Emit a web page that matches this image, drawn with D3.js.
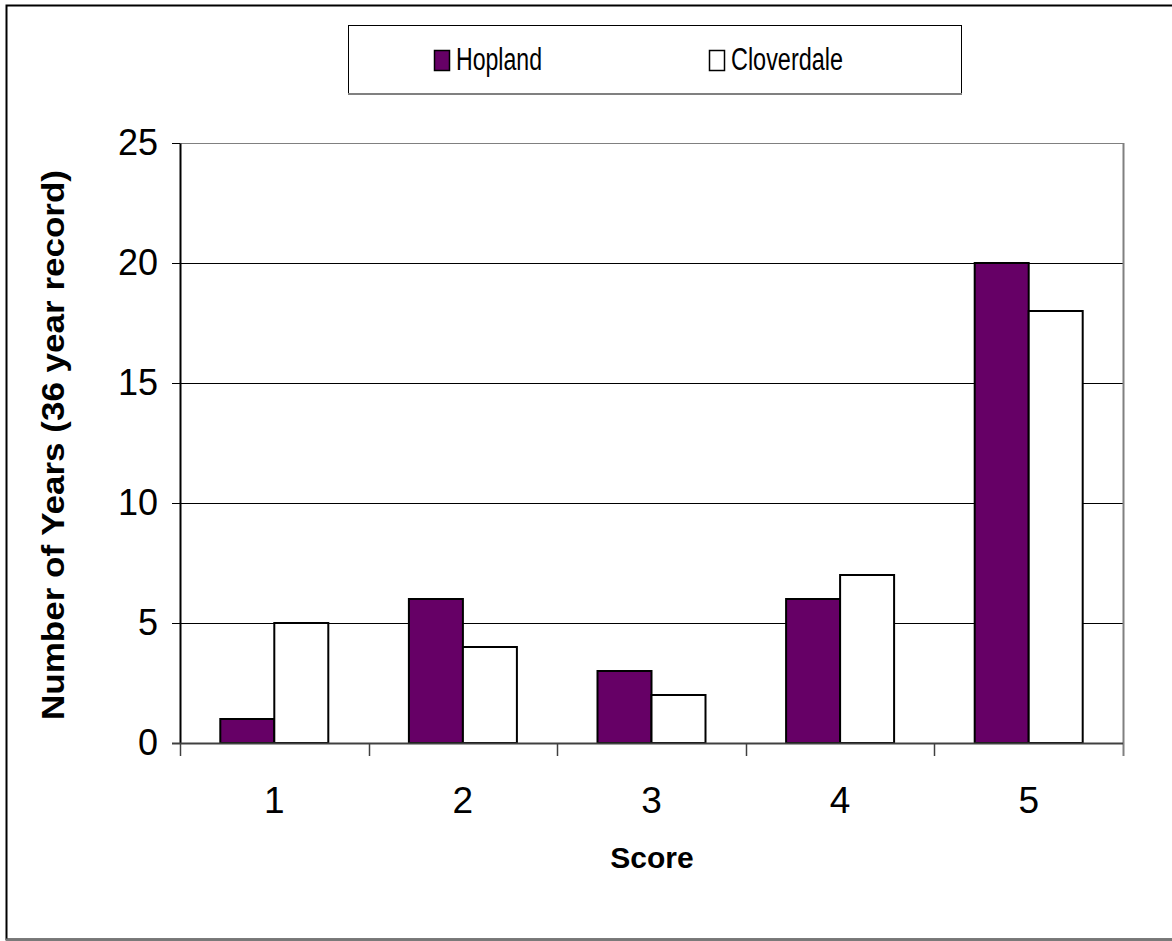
<!DOCTYPE html>
<html>
<head>
<meta charset="utf-8">
<script src="https://cdn.jsdelivr.net/npm/d3@7"></script>
<style>
  html, body { margin: 0; padding: 0; background: #fff; }
  svg { display: block; }
</style>
</head>
<body>
<script>
// Years per score category over a 36 year record
const scores = ["1", "2", "3", "4", "5"];
const hopland = [1, 6, 3, 6, 20];
const cloverdale = [5, 4, 2, 7, 18];
const seriesNames = ["Hopland", "Cloverdale"];
const seriesColors = ["#660066", "#ffffff"];
const yTicks = [0, 5, 10, 15, 20, 25];

const W = 1172, H = 941;
const FONT = "Liberation Sans, Arial, sans-serif";
const svg = d3.select("body").append("svg").attr("width", W).attr("height", H);

// outer frame (right side runs off the page)
svg.append("rect").attr("x", 6.5).attr("y", 5.5).attr("width", W + 20).attr("height", 934)
  .attr("fill", "#fff").attr("stroke", "#000").attr("stroke-width", 2);
svg.append("line").attr("x1", 6).attr("x2", W).attr("y1", 939.5).attr("y2", 939.5)
  .attr("stroke", "#777").attr("stroke-width", 2);

const plot = { left: 180, right: 1123, top: 143, bottom: 743 };

const x = d3.scaleBand().domain(scores).range([plot.left, plot.right]);
const y = d3.scaleLinear().domain([0, 25]).range([plot.bottom, plot.top]);
const groupW = 108;
const xs = d3.scaleBand().domain(seriesNames).range([0, groupW]);

// horizontal gridlines
svg.append("g").selectAll("line").data(yTicks.filter(d => d > 0)).join("line")
  .attr("x1", plot.left).attr("x2", plot.right)
  .attr("y1", d => Math.round(y(d)) + 0.5).attr("y2", d => Math.round(y(d)) + 0.5)
  .attr("stroke", d => d === 25 ? "#808080" : "#000").attr("stroke-width", 1);

// right edge of plot area
svg.append("line").attr("x1", plot.right + 0.5).attr("x2", plot.right + 0.5)
  .attr("y1", plot.top).attr("y2", plot.bottom + 13).attr("stroke", "#808080").attr("stroke-width", 2);

// bars
const rows = scores.map((s, i) => ({ score: s, values: [hopland[i], cloverdale[i]] }));
const groups = svg.append("g").selectAll("g").data(rows).join("g")
  .attr("transform", d => `translate(${x(d.score) + (x.bandwidth() - groupW) / 2},0)`);
groups.selectAll("rect").data(d => d.values.map((v, j) => ({ name: seriesNames[j], v, j }))).join("rect")
  .attr("x", d => xs(d.name))
  .attr("width", xs.bandwidth())
  .attr("y", d => y(d.v))
  .attr("height", d => y(0) - y(d.v))
  .attr("fill", d => seriesColors[d.j])
  .attr("stroke", "#000").attr("stroke-width", 2);

// y axis
const yAxis = d3.axisLeft(y).tickValues(yTicks).tickSize(8).tickPadding(14).tickSizeOuter(0);
const gy = svg.append("g").attr("transform", `translate(${plot.left},0)`).call(yAxis);
gy.select(".domain").attr("stroke", "#000").attr("stroke-width", 2);
gy.selectAll(".tick line").attr("stroke", "#000");
gy.selectAll(".tick text").attr("font-family", FONT).attr("font-size", 36).attr("fill", "#000");

// x axis with ticks on category boundaries
const gx = svg.append("g").attr("transform", `translate(0,${plot.bottom})`);
gx.append("line").attr("x1", plot.left - 8).attr("x2", plot.right).attr("y1", 0.5).attr("y2", 0.5)
  .attr("stroke", "#404040").attr("stroke-width", 2);
gx.selectAll("line.b").data(scores).join("line").attr("class", "b")
  .attr("x1", d => Math.round(x(d)) + 0.5).attr("x2", d => Math.round(x(d)) + 0.5)
  .attr("y1", 0).attr("y2", 13).attr("stroke", "#404040").attr("stroke-width", 1.5);
gx.selectAll("text").data(scores).join("text")
  .attr("x", d => x(d) + x.bandwidth() / 2).attr("y", 70)
  .attr("text-anchor", "middle")
  .attr("font-family", FONT).attr("font-size", 37)
  .text(d => d);

// axis titles
svg.append("text").attr("x", 652).attr("y", 868).attr("text-anchor", "middle")
  .attr("font-family", FONT).attr("font-weight", "bold")
  .attr("font-size", 30).text("Score");
svg.append("text").attr("transform", "translate(64,445) rotate(-90)").attr("text-anchor", "middle")
  .attr("font-family", FONT).attr("font-weight", "bold")
  .attr("font-size", 31).attr("textLength", 550).attr("lengthAdjust", "spacingAndGlyphs")
  .text("Number of Years (36 year record)");

// legend
const lg = svg.append("g");
lg.append("rect").attr("x", 348.5).attr("y", 25.5).attr("width", 613).attr("height", 68)
  .attr("fill", "#fff").attr("stroke", "#000").attr("stroke-width", 1);
lg.append("line").attr("x1", 348).attr("x2", 962).attr("y1", 94).attr("y2", 94)
  .attr("stroke", "#808080").attr("stroke-width", 2);
const legendX = [434, 709];
const legendW = [86, 112];
seriesNames.forEach((n, i) => {
  lg.append("rect").attr("x", legendX[i] + 0.5).attr("y", 50.5).attr("width", 15).attr("height", 20)
    .attr("fill", seriesColors[i]).attr("stroke", "#000").attr("stroke-width", 1.5);
  lg.append("text").attr("x", legendX[i] + 22).attr("y", 70)
    .attr("font-family", FONT).attr("font-size", 31)
    .attr("textLength", legendW[i]).attr("lengthAdjust", "spacingAndGlyphs")
    .text(n);
});
</script>
</body>
</html>
